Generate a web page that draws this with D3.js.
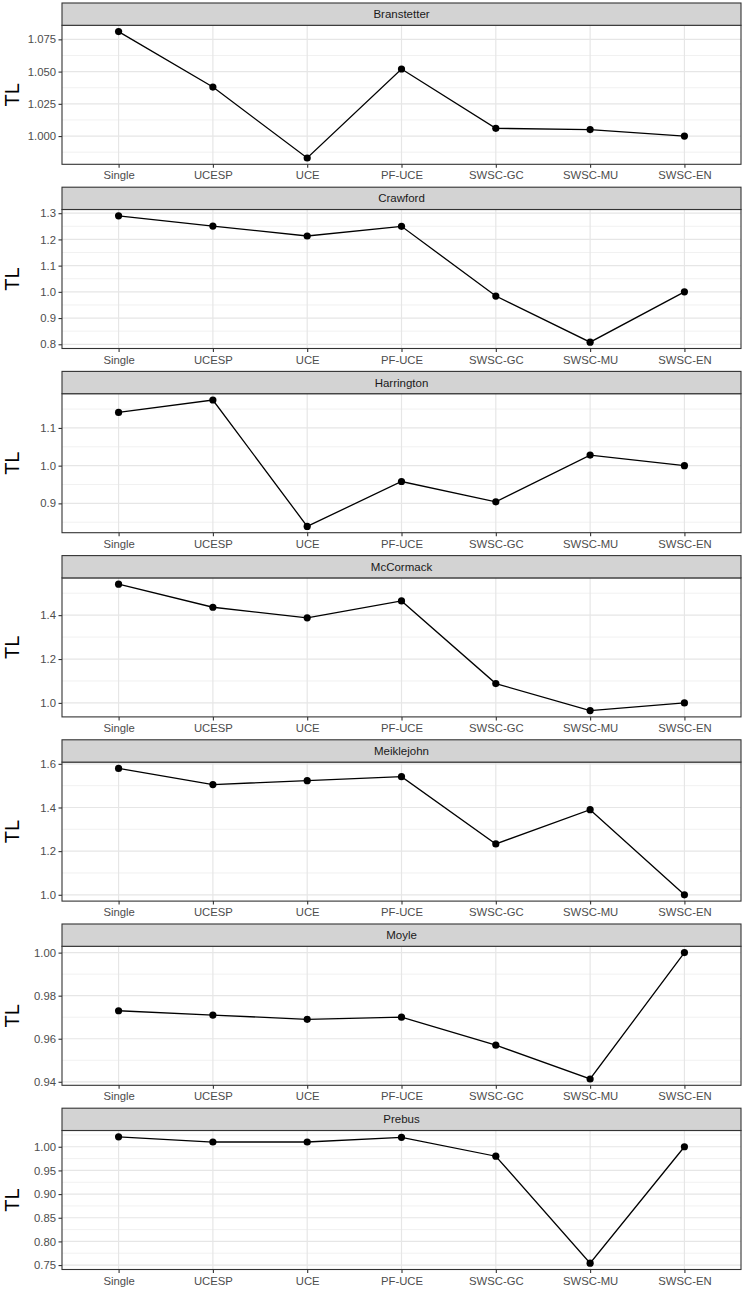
<!DOCTYPE html>
<html>
<head>
<meta charset="utf-8">
<script src="https://cdn.jsdelivr.net/npm/d3@7"></script>
<style>
  body { margin: 0; background: #fff; }
  text { font-family: "Liberation Sans", Arial, Helvetica, sans-serif; }
</style>
</head>
<body>
<div id="chart"></div>
<script>
// categories on the x axis
const methods = ["Single", "UCESP", "UCE", "PF-UCE", "SWSC-GC", "SWSC-MU", "SWSC-EN"];

// facet names
const facets = ["Branstetter", "Crawford", "Harrington", "McCormack", "Meiklejohn", "Moyle", "Prebus"];

// TL values per facet (same order as methods)
const branstetter = [1.081, 1.038, 0.983, 1.052, 1.006, 1.005, 1.000];
const crawford    = [1.290, 1.251, 1.213, 1.250, 0.984, 0.808, 1.000];
const harrington  = [1.141, 1.174, 0.839, 0.958, 0.904, 1.028, 1.000];
const mccormack   = [1.541, 1.436, 1.388, 1.465, 1.088, 0.965, 1.000];
const meiklejohn  = [1.579, 1.505, 1.523, 1.541, 1.233, 1.390, 1.000];
const moyle       = [0.973, 0.971, 0.969, 0.970, 0.957, 0.9413, 1.000];
const prebus      = [1.021, 1.010, 1.010, 1.020, 0.980, 0.754, 1.000];

// y tick labels per facet
const branstetterTicks = [1.000, 1.025, 1.050, 1.075];
const crawfordTicks    = [0.8, 0.9, 1.0, 1.1, 1.2, 1.3];
const harringtonTicks  = [0.9, 1.0, 1.1];
const mccormackTicks   = [1.0, 1.2, 1.4];
const meiklejohnTicks  = [1.0, 1.2, 1.4, 1.6];
const moyleTicks       = [0.94, 0.96, 0.98, 1.00];
const prebusTicks      = [0.75, 0.80, 0.85, 0.90, 0.95, 1.00];

const seriesList = [branstetter, crawford, harrington, mccormack, meiklejohn, moyle, prebus];
const tickList = [branstetterTicks, crawfordTicks, harringtonTicks, mccormackTicks, meiklejohnTicks, moyleTicks, prebusTicks];
const tickFormats = [".3f", ".1f", ".1f", ".1f", ".1f", ".2f", ".2f"];

const W = 745, H = 1291;
const panelLeft = 62, panelRight = 741;
const firstTop = 3, pitch = 184.2, stripH = 22.3, panelH = 139;

const svg = d3.select("#chart")
  .append("svg")
  .attr("width", W)
  .attr("height", H);

svg.append("rect").attr("width", W).attr("height", H).attr("fill", "#fff");

// x scale: discrete with ggplot-like 0.6 expansion
const xScale = d3.scalePoint()
  .domain(methods)
  .range([panelLeft, panelRight])
  .padding(0.6);

facets.forEach((name, i) => {
  const values = seriesList[i];
  const ticks = tickList[i];
  const top = firstTop + i * pitch;
  const pTop = top + stripH;
  const pBottom = pTop + panelH;

  const [lo, hi] = d3.extent(values);
  const pad = (hi - lo) * 0.05;
  const y = d3.scaleLinear()
    .domain([lo - pad, hi + pad])
    .range([pBottom, pTop]);

  const g = svg.append("g").attr("class", "facet");

  // minor grid (midpoints between major ticks)
  const step = ticks[1] - ticks[0];
  const minor = [];
  for (let k = -1; k < ticks.length; k++) {
    const v = ticks[0] + (k + 0.5) * step;
    if (v >= y.domain()[0] && v <= y.domain()[1]) minor.push(v);
  }
  g.selectAll("line.minor")
    .data(minor)
    .enter().append("line")
    .attr("x1", panelLeft).attr("x2", panelRight)
    .attr("y1", d => y(d)).attr("y2", d => y(d))
    .attr("stroke", "#ebebeb")
    .attr("stroke-width", 0.7);

  // major grid y
  g.selectAll("line.majorY")
    .data(ticks)
    .enter().append("line")
    .attr("x1", panelLeft).attr("x2", panelRight)
    .attr("y1", d => y(d)).attr("y2", d => y(d))
    .attr("stroke", "#e6e6e6")
    .attr("stroke-width", 1.2);

  // major grid x
  g.selectAll("line.majorX")
    .data(methods)
    .enter().append("line")
    .attr("x1", d => xScale(d)).attr("x2", d => xScale(d))
    .attr("y1", pTop).attr("y2", pBottom)
    .attr("stroke", "#e6e6e6")
    .attr("stroke-width", 1.2);

  // line + points
  const line = d3.line()
    .x((d, j) => xScale(methods[j]))
    .y(d => y(d));

  g.append("path")
    .datum(values)
    .attr("d", line)
    .attr("fill", "none")
    .attr("stroke", "#000")
    .attr("stroke-width", 1.3);

  g.selectAll("circle")
    .data(values)
    .enter().append("circle")
    .attr("cx", (d, j) => xScale(methods[j]))
    .attr("cy", d => y(d))
    .attr("r", 3.6)
    .attr("fill", "#000");

  // panel border
  g.append("rect")
    .attr("x", panelLeft).attr("y", pTop)
    .attr("width", panelRight - panelLeft).attr("height", panelH)
    .attr("fill", "none")
    .attr("stroke", "#333")
    .attr("stroke-width", 1.1);

  // strip
  g.append("rect")
    .attr("x", panelLeft).attr("y", top)
    .attr("width", panelRight - panelLeft).attr("height", stripH)
    .attr("fill", "#d3d3d3")
    .attr("stroke", "#333")
    .attr("stroke-width", 1.1);

  g.append("text")
    .attr("x", (panelLeft + panelRight) / 2)
    .attr("y", top + stripH / 2)
    .attr("dy", "0.36em")
    .attr("text-anchor", "middle")
    .attr("fill", "#1a1a1a")
    .style("font-size", "11.5px")
    .text(name);

  // y axis
  const yAxis = g.append("g")
    .attr("transform", "translate(" + panelLeft + ",0)")
    .call(d3.axisLeft(y).tickValues(ticks).tickFormat(d3.format(tickFormats[i])).tickSize(3.5).tickPadding(2.5));
  yAxis.select(".domain").remove();
  yAxis.selectAll(".tick line").attr("stroke", "#333").attr("stroke-width", 1.1);
  yAxis.selectAll(".tick text")
    .attr("fill", "#4d4d4d")
    .style("font-size", "11.3px")
    .style("font-family", "'Liberation Sans', Arial, Helvetica, sans-serif");

  // x axis
  const xAxis = g.append("g")
    .attr("transform", "translate(0," + pBottom + ")")
    .call(d3.axisBottom(xScale).tickSize(3.5).tickPadding(3.5));
  xAxis.select(".domain").remove();
  xAxis.selectAll(".tick line").attr("stroke", "#333").attr("stroke-width", 1.1);
  xAxis.selectAll(".tick text")
    .attr("fill", "#4d4d4d")
    .style("font-size", "11.3px")
    .style("font-family", "'Liberation Sans', Arial, Helvetica, sans-serif");

  // y axis title
  g.append("text")
    .attr("transform", "translate(" + 19 + "," + ((pTop + pBottom) / 2) + ") rotate(-90)")
    .attr("text-anchor", "middle")
    .attr("fill", "#000")
    .style("font-size", "20px")
    .text("TL");
});
</script>
</body>
</html>
